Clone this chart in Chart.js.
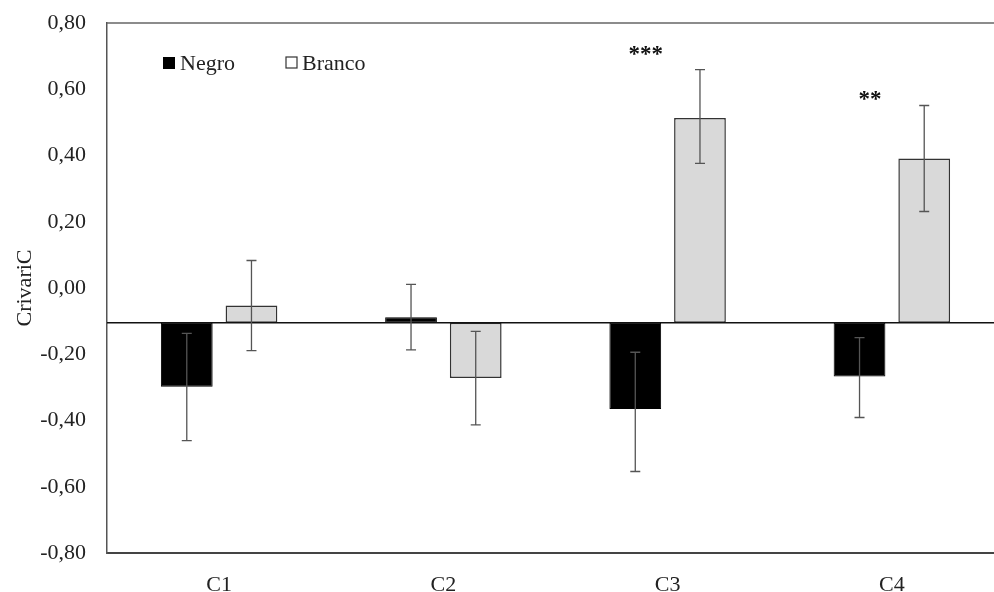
<!DOCTYPE html>
<html>
<head>
<meta charset="utf-8">
<script src="https://cdn.jsdelivr.net/npm/chart.js@4.4.0/dist/chart.umd.min.js"></script>
<style>
	html, body { margin: 0; padding: 0; background: #fff; overflow: hidden; }
	#wrap { width: 994px; height: 592px; overflow: hidden; }
</style>
</head>
<body>
<div id="wrap"><canvas id="chart" width="1004" height="592"></canvas></div>
<script>
// data
var categories = ['C1', 'C2', 'C3', 'C4'];
var baseline = -0.105;
var negro = [-0.298, -0.088, -0.365, -0.267];
var branco = [-0.053, -0.272, 0.513, 0.391];
var negroLow = [-0.461, -0.187, -0.554, -0.391];
var negroHigh = [-0.137, 0.011, -0.194, -0.150];
var brancoLow = [-0.189, -0.413, 0.376, 0.231];
var brancoHigh = [0.083, -0.131, 0.659, 0.551];
var stars = ['', '', '***', '**'];
var starValues = [0, 0, 0.711, 0.575];
var yTitle = 'CrivariC';

var serif = "'Liberation Serif', 'DejaVu Serif', serif";

function fmt(v) {
	if (Math.abs(v) < 1e-9) v = 0;
	return v.toFixed(2).replace('.', ',');
}

var extras = {
	id: 'extras',
	beforeDatasetsDraw: function(chart) {
		var ctx = chart.ctx;
		var a = chart.chartArea;
		ctx.save();
		// top frame line
		ctx.strokeStyle = '#666';
		ctx.lineWidth = 1.5;
		ctx.beginPath();
		ctx.moveTo(a.left, a.top);
		ctx.lineTo(a.right, a.top);
		ctx.stroke();
		ctx.restore();
	},
	afterDatasetsDraw: function(chart) {
		var ctx = chart.ctx;
		var a = chart.chartArea;
		var x = chart.scales.x;
		var y = chart.scales.y;
		ctx.save();
		// baseline
		var by = y.getPixelForValue(baseline);
		ctx.strokeStyle = '#111';
		ctx.lineWidth = 1.5;
		ctx.beginPath();
		ctx.moveTo(a.left, by);
		ctx.lineTo(a.right, by);
		ctx.stroke();

		// error bars
		var lows = [negroLow, brancoLow];
		var highs = [negroHigh, brancoHigh];
		ctx.strokeStyle = '#555';
		ctx.lineWidth = 1.3;
		for (var d = 0; d < 2; d++) {
			var meta = chart.getDatasetMeta(d);
			for (var i = 0; i < categories.length; i++) {
				var cx = meta.data[i].x;
				var y1 = y.getPixelForValue(lows[d][i]);
				var y2 = y.getPixelForValue(highs[d][i]);
				ctx.beginPath();
				ctx.moveTo(cx, y1);
				ctx.lineTo(cx, y2);
				ctx.moveTo(cx - 5, y1);
				ctx.lineTo(cx + 5, y1);
				ctx.moveTo(cx - 5, y2);
				ctx.lineTo(cx + 5, y2);
				ctx.stroke();
			}
		}

		// significance stars
		ctx.fillStyle = '#111';
		ctx.font = 'bold 23px ' + serif;
		ctx.textAlign = 'center';
		ctx.textBaseline = 'middle';
		for (var j = 0; j < stars.length; j++) {
			if (!stars[j]) continue;
			ctx.fillText(stars[j], x.getPixelForValue(j) - 22, y.getPixelForValue(starValues[j]) + 3);
		}

		// legend
		ctx.font = '22px ' + serif;
		ctx.textAlign = 'left';
		ctx.fillStyle = '#000';
		ctx.fillRect(163, 57, 12, 12);
		ctx.fillStyle = '#222';
		ctx.fillText('Negro', 180, 64);
		ctx.fillStyle = '#fff';
		ctx.fillRect(286, 57, 11, 11);
		ctx.strokeStyle = '#333';
		ctx.lineWidth = 1.2;
		ctx.strokeRect(286, 57, 11, 11);
		ctx.fillStyle = '#222';
		ctx.fillText('Branco', 302, 64);
		ctx.restore();
	}
};

var ctx = document.getElementById('chart').getContext('2d');
var chart = new Chart(ctx, {
	type: 'bar',
	data: {
		labels: categories,
		datasets: [{
			label: 'Negro',
			data: negro.map(function(v) { return [baseline, v]; }),
			backgroundColor: '#000',
			borderColor: '#000',
			borderWidth: 1,
			borderSkipped: false
		}, {
			label: 'Branco',
			data: branco.map(function(v) { return [baseline, v]; }),
			backgroundColor: '#d9d9d9',
			borderColor: '#333',
			borderWidth: 1.5,
			borderSkipped: false
		}]
	},
	options: {
		responsive: false,
		animation: false,
		layout: { padding: { top: 23, bottom: 0, left: 0, right: 0 } },
		datasets: { bar: { categoryPercentage: 0.577, barPercentage: 0.8 } },
		plugins: {
			legend: { display: false },
			tooltip: { enabled: false }
		},
		scales: {
			x: {
				afterFit: function(scale) { scale.height = 39; },
				grid: { display: false, drawTicks: false },
				border: { color: '#444', width: 2 },
				ticks: { color: '#222', font: { family: serif, size: 22 }, padding: 19 }
			},
			y: {
				min: -0.8,
				max: 0.8,
				afterFit: function(scale) {
					scale.width = 107;
					scale.paddingTop = 0;
					scale.paddingBottom = 0;
				},
				grid: { display: false, drawTicks: false },
				border: { color: '#555', width: 1.5 },
				ticks: {
					stepSize: 0.2,
					color: '#222',
					padding: 21,
					font: { family: serif, size: 22 },
					callback: function(v) { return fmt(v); }
				},
				title: {
					display: true,
					text: yTitle,
					color: '#222',
					font: { family: serif, size: 22 },
					padding: { top: 12, bottom: 0 }
				}
			}
		}
	},
	plugins: [extras]
});
</script>
</body>
</html>
